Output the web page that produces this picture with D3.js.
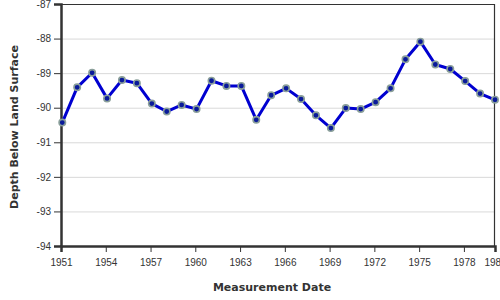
<!DOCTYPE html>
<html>
<head>
<meta charset="utf-8">
<script src="https://cdn.jsdelivr.net/npm/d3@7"></script>
<style>
  body { margin: 0; background: #fff; }
  svg { display: block; font-family: "DejaVu Sans", Verdana, sans-serif; }
  .grid line { stroke: #d9d9d9; stroke-width: 1; }
  .grid .domain { display: none; }
  .axis text { fill: #333; font-size: 10px; }
  .axis line { stroke: #333; }
  .axis .domain { stroke: #333; stroke-width: 2.5; }
  .title { fill: #333; font-size: 11px; font-weight: bold; }
</style>
</head>
<body>
<svg class="chart" width="500" height="300"></svg>
<script>
// measurement dates (one per year) and depths below land surface, ft
var years = [1951, 1952, 1953, 1954, 1955, 1956, 1957, 1958, 1959, 1960,
             1961, 1962, 1963, 1964, 1965, 1966, 1967, 1968, 1969, 1970,
             1971, 1972, 1973, 1974, 1975, 1976, 1977, 1978, 1979, 1980];
var depths = [-90.43, -89.41, -88.99, -89.73, -89.20, -89.29, -89.88, -90.11, -89.92, -90.04,
              -89.22, -89.37, -89.37, -90.35, -89.64, -89.44, -89.75, -90.22, -90.59, -90.01,
              -90.04, -89.84, -89.44, -88.60, -88.09, -88.75, -88.88, -89.23, -89.59, -89.77];
var xTicks = [1951, 1954, 1957, 1960, 1963, 1966, 1969, 1972, 1975, 1978, 1980];
var yTicks = [-87, -88, -89, -90, -91, -92, -93, -94];

var data = years.map(function(y, i) {
  return { date: new Date(y, 1, 1), depth: depths[i] };
});

var svg = d3.select(".chart");
var margin = {top: 4, right: 5, bottom: 54, left: 61};
var width = 500 - margin.left - margin.right;
var height = 300 - margin.top - margin.bottom;

var x = d3.scaleTime()
  .domain([new Date(1951, 0, 1), data[data.length - 1].date])
  .range([0, width]);
var y = d3.scaleLinear()
  .domain([-94, -87])
  .range([height, 0]);

var g = svg.append("g")
  .attr("transform", "translate(" + [margin.left, margin.top] + ")");

// horizontal grid
g.append("g")
  .attr("class", "grid")
  .call(d3.axisLeft(y).tickValues(yTicks).tickSize(-width).tickFormat(""));

// frame: top and right
g.append("line").attr("x1", 0).attr("x2", width).attr("y1", 0.5).attr("y2", 0.5)
  .attr("stroke", "#333").attr("stroke-width", 1.2);
g.append("line").attr("x1", width - 0.5).attr("x2", width - 0.5).attr("y1", 0).attr("y2", height)
  .attr("stroke", "#333").attr("stroke-width", 1.2);

var xTickDates = xTicks.map(function(t) {
  return t === 1980 ? x.domain()[1] : new Date(t, 0, 1);
});

g.append("g")
  .attr("class", "axis")
  .attr("transform", "translate(0," + height + ")")
  .call(d3.axisBottom(x).tickValues(xTickDates).tickSizeOuter(0).tickSize(6).tickPadding(7)
    .tickFormat(d3.timeFormat("%Y")));

g.append("g")
  .attr("class", "axis")
  .call(d3.axisLeft(y).tickValues(yTicks).tickSizeOuter(0).tickSize(7).tickPadding(3)
    .tickFormat(function(d) { return d; }));

var line = d3.line()
  .x(function(d) { return x(d.date); })
  .y(function(d) { return y(d.depth); });

g.append("path")
  .datum(data)
  .attr("fill", "none")
  .attr("stroke", "#0000d0")
  .attr("stroke-width", 3)
  .attr("stroke-linejoin", "round")
  .attr("d", line);

g.selectAll(".dot")
  .data(data)
  .enter().append("circle")
  .attr("class", "dot")
  .attr("cx", function(d) { return x(d.date); })
  .attr("cy", function(d) { return y(d.depth); })
  .attr("r", 3.2)
  .attr("fill", "#0a1a9a")
  .attr("stroke", "#8a9f9a")
  .attr("stroke-width", 1.6);

svg.append("text")
  .attr("class", "title")
  .attr("x", margin.left + width / 2 - 6)
  .attr("y", 291)
  .attr("text-anchor", "middle")
  .text("Measurement Date");

svg.append("text")
  .attr("class", "title")
  .attr("transform", "translate(18," + (margin.top + height / 2 + 2) + ") rotate(-90)")
  .attr("text-anchor", "middle")
  .text("Depth Below Land Surface");
</script>
</body>
</html>
